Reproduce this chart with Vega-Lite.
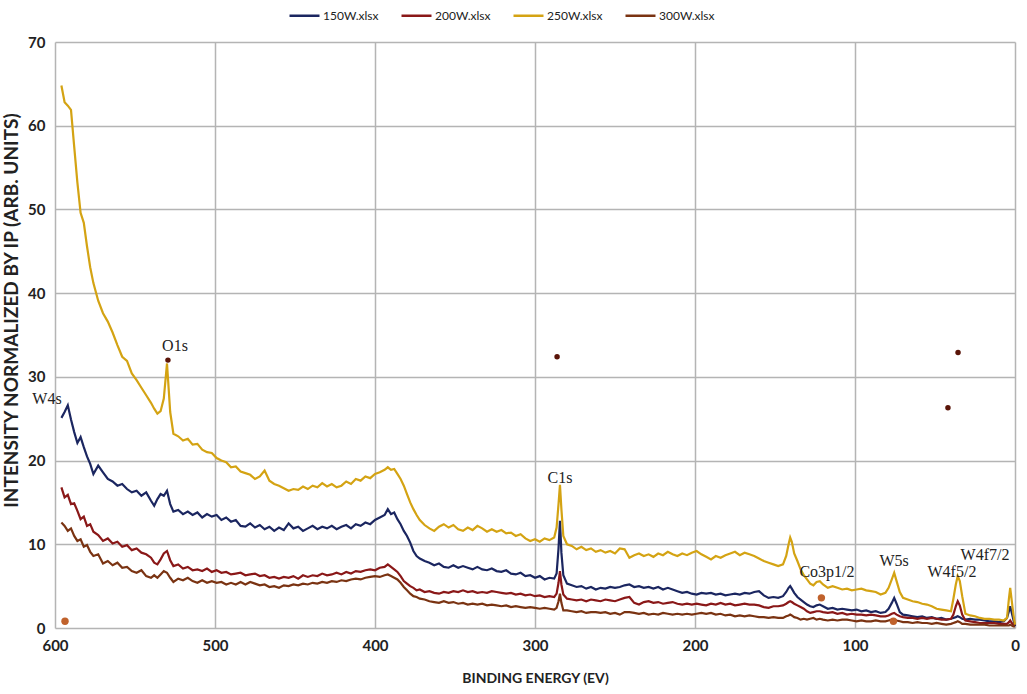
{
  "$schema": "https://vega.github.io/schema/vega-lite/v6.json",
  "width": 960,
  "height": 586,
  "autosize": {"type": "none"},
  "padding": {"left": 55, "top": 42, "right": 12, "bottom": 66},
  "background": "white",
  "config": {
    "view": {"stroke": null},
    "font": "Lato",
    "axis": {
      "grid": true,
      "gridColor": "#b4b4b4",
      "gridWidth": 1.5,
      "domain": false,
      "ticks": false,
      "labelFlush": false,
      "labelFont": "Lato",
      "labelFontWeight": "bold",
      "labelFontSize": 15,
      "labelColor": "#222222",
      "titleFont": "Lato",
      "titleFontWeight": "bold",
      "titleColor": "#222222"
    }
  },
  "datasets": {
    "spec": [
      {"E":596,"150W":25.1,"200W":16.8,"250W":64.8,"300W":12.6},
      {"E":594,"150W":25.8,"200W":15.6,"250W":62.8,"300W":12.2},
      {"E":592,"150W":26.6,"200W":15.9,"250W":62.4,"300W":11.6},
      {"E":590,"150W":24.9,"200W":14.8,"250W":61.9,"300W":11.9},
      {"E":588,"150W":23.4,"200W":14.9,"250W":57.5,"300W":11.0},
      {"E":586,"150W":22.1,"200W":14.0,"250W":53.2,"300W":10.4},
      {"E":584,"150W":22.8,"200W":13.0,"250W":49.6,"300W":10.6},
      {"E":582,"150W":21.6,"200W":13.3,"250W":48.4,"300W":9.7},
      {"E":580,"150W":20.5,"200W":12.2,"250W":45.6,"300W":9.9},
      {"E":578,"150W":19.6,"200W":12.4,"250W":43.1,"300W":9.1},
      {"E":576,"150W":18.4,"200W":11.5,"250W":41.2,"300W":8.6},
      {"E":573,"150W":19.4,"200W":11.1,"250W":39.1,"300W":8.8},
      {"E":570,"150W":18.6,"200W":10.4,"250W":37.6,"300W":7.7},
      {"E":567,"150W":17.8,"200W":10.7,"250W":36.6,"300W":8.0},
      {"E":564,"150W":17.5,"200W":10.1,"250W":35.3,"300W":7.5},
      {"E":561,"150W":17.0,"200W":10.3,"250W":33.8,"300W":7.8},
      {"E":558,"150W":17.2,"200W":9.7,"250W":32.4,"300W":7.2},
      {"E":555,"150W":16.6,"200W":9.9,"250W":31.9,"300W":7.3},
      {"E":552,"150W":16.2,"200W":9.3,"250W":30.4,"300W":6.8},
      {"E":549,"150W":16.4,"200W":9.5,"250W":29.6,"300W":6.6},
      {"E":546,"150W":15.8,"200W":9.0,"250W":28.7,"300W":6.9},
      {"E":543,"150W":16.2,"200W":8.8,"250W":27.8,"300W":6.2},
      {"E":540,"150W":15.2,"200W":8.4,"250W":26.9,"300W":6.0},
      {"E":538,"150W":14.6,"200W":7.8,"250W":26.2,"300W":6.3},
      {"E":536,"150W":15.4,"200W":7.6,"250W":25.6,"300W":6.0},
      {"E":534,"150W":16.0,"200W":8.2,"250W":25.9,"300W":6.4},
      {"E":532,"150W":15.8,"200W":8.9,"250W":27.4,"300W":6.8},
      {"E":530,"150W":16.4,"200W":9.2,"250W":31.6,"300W":6.6},
      {"E":528,"150W":14.8,"200W":8.1,"250W":25.8,"300W":6.0},
      {"E":526,"150W":13.9,"200W":7.4,"250W":23.2,"300W":5.5},
      {"E":523,"150W":14.1,"200W":7.6,"250W":22.9,"300W":5.9},
      {"E":520,"150W":13.6,"200W":7.1,"250W":22.4,"300W":5.7},
      {"E":517,"150W":13.9,"200W":7.3,"250W":22.6,"300W":6.0},
      {"E":514,"150W":13.5,"200W":6.9,"250W":21.9,"300W":5.6},
      {"E":511,"150W":13.8,"200W":7.0,"250W":22.0,"300W":5.4},
      {"E":508,"150W":13.2,"200W":6.8,"250W":21.3,"300W":5.7},
      {"E":505,"150W":13.6,"200W":7.1,"250W":21.0,"300W":5.4},
      {"E":502,"150W":13.3,"200W":6.7,"250W":20.9,"300W":5.6},
      {"E":499,"150W":13.5,"200W":6.9,"250W":20.3,"300W":5.4},
      {"E":496,"150W":12.9,"200W":6.6,"250W":20.0,"300W":5.5},
      {"E":493,"150W":13.2,"200W":6.7,"250W":19.8,"300W":5.2},
      {"E":490,"150W":12.7,"200W":6.4,"250W":19.2,"300W":5.4},
      {"E":487,"150W":12.9,"200W":6.5,"250W":19.3,"300W":5.2},
      {"E":484,"150W":12.2,"200W":6.6,"250W":18.7,"300W":5.5},
      {"E":481,"150W":12.1,"200W":6.3,"250W":18.5,"300W":5.2},
      {"E":478,"150W":12.5,"200W":6.4,"250W":18.3,"300W":5.5},
      {"E":475,"150W":12.0,"200W":6.5,"250W":17.8,"300W":5.3},
      {"E":472,"150W":12.3,"200W":6.2,"250W":18.1,"300W":5.1},
      {"E":469,"150W":11.8,"200W":6.3,"250W":18.8,"300W":5.2},
      {"E":466,"150W":12.1,"200W":6.0,"250W":17.6,"300W":4.9},
      {"E":463,"150W":11.6,"200W":6.1,"250W":17.2,"300W":5.0},
      {"E":460,"150W":12.0,"200W":5.9,"250W":17.0,"300W":4.8},
      {"E":457,"150W":11.7,"200W":6.1,"250W":16.7,"300W":5.1},
      {"E":454,"150W":12.5,"200W":6.0,"250W":16.4,"300W":5.0},
      {"E":451,"150W":11.9,"200W":6.2,"250W":16.6,"300W":5.2},
      {"E":448,"150W":12.1,"200W":5.9,"250W":16.5,"300W":5.1},
      {"E":445,"150W":11.6,"200W":6.3,"250W":16.9,"300W":5.3},
      {"E":442,"150W":11.9,"200W":6.1,"250W":16.6,"300W":5.2},
      {"E":439,"150W":12.2,"200W":6.3,"250W":17.0,"300W":5.4},
      {"E":436,"150W":11.8,"200W":6.2,"250W":16.8,"300W":5.3},
      {"E":433,"150W":12.1,"200W":6.5,"250W":17.3,"300W":5.5},
      {"E":430,"150W":11.9,"200W":6.3,"250W":16.9,"300W":5.4},
      {"E":427,"150W":12.2,"200W":6.4,"250W":17.2,"300W":5.6},
      {"E":424,"150W":11.8,"200W":6.6,"250W":16.8,"300W":5.5},
      {"E":421,"150W":12.1,"200W":6.4,"250W":17.0,"300W":5.7},
      {"E":418,"150W":12.3,"200W":6.7,"250W":17.5,"300W":5.6},
      {"E":415,"150W":11.9,"200W":6.5,"250W":17.2,"300W":5.8},
      {"E":412,"150W":12.4,"200W":6.8,"250W":17.8,"300W":5.9},
      {"E":409,"150W":12.2,"200W":6.7,"250W":17.6,"300W":5.8},
      {"E":406,"150W":12.6,"200W":6.9,"250W":18.1,"300W":6.0},
      {"E":403,"150W":12.4,"200W":7.0,"250W":17.9,"300W":6.1},
      {"E":400,"150W":12.9,"200W":6.9,"250W":18.4,"300W":6.2},
      {"E":397,"150W":13.2,"200W":7.2,"250W":18.6,"300W":6.1},
      {"E":394,"150W":13.5,"200W":7.3,"250W":18.9,"300W":6.3},
      {"E":392,"150W":14.2,"200W":7.6,"250W":19.2,"300W":6.4},
      {"E":390,"150W":13.6,"200W":7.3,"250W":18.9,"300W":6.2},
      {"E":388,"150W":13.8,"200W":7.0,"250W":19.0,"300W":6.0},
      {"E":386,"150W":13.0,"200W":6.7,"250W":18.4,"300W":5.8},
      {"E":384,"150W":12.4,"200W":6.2,"250W":17.8,"300W":5.4},
      {"E":382,"150W":11.6,"200W":5.6,"250W":17.0,"300W":4.9},
      {"E":380,"150W":11.0,"200W":5.3,"250W":16.0,"300W":4.5},
      {"E":378,"150W":10.2,"200W":5.0,"250W":15.0,"300W":4.1},
      {"E":376,"150W":9.2,"200W":4.8,"250W":14.2,"300W":3.8},
      {"E":374,"150W":8.6,"200W":4.5,"250W":13.5,"300W":3.7},
      {"E":372,"150W":8.3,"200W":4.6,"250W":12.9,"300W":3.5},
      {"E":369,"150W":8.0,"200W":4.3,"250W":12.3,"300W":3.4},
      {"E":366,"150W":7.8,"200W":4.4,"250W":11.9,"300W":3.2},
      {"E":363,"150W":7.5,"200W":4.2,"250W":11.6,"300W":3.1},
      {"E":360,"150W":7.7,"200W":4.1,"250W":12.1,"300W":3.0},
      {"E":357,"150W":7.3,"200W":4.3,"250W":12.4,"300W":3.2},
      {"E":354,"150W":7.2,"200W":4.2,"250W":12.0,"300W":3.0},
      {"E":351,"150W":7.5,"200W":4.4,"250W":12.3,"300W":3.1},
      {"E":348,"150W":7.2,"200W":4.3,"250W":11.8,"300W":2.9},
      {"E":345,"150W":7.4,"200W":4.5,"250W":11.6,"300W":3.0},
      {"E":342,"150W":7.2,"200W":4.3,"250W":12.0,"300W":2.8},
      {"E":339,"150W":7.0,"200W":4.4,"250W":11.7,"300W":2.9},
      {"E":336,"150W":7.3,"200W":4.2,"250W":12.2,"300W":2.8},
      {"E":333,"150W":7.0,"200W":4.3,"250W":11.9,"300W":2.9},
      {"E":330,"150W":6.9,"200W":4.2,"250W":11.5,"300W":2.7},
      {"E":327,"150W":7.1,"200W":4.4,"250W":11.8,"300W":2.8},
      {"E":324,"150W":6.8,"200W":4.3,"250W":11.5,"300W":2.7},
      {"E":321,"150W":6.7,"200W":4.2,"250W":11.7,"300W":2.6},
      {"E":318,"150W":6.9,"200W":4.1,"250W":11.3,"300W":2.7},
      {"E":315,"150W":6.5,"200W":4.2,"250W":11.4,"300W":2.5},
      {"E":312,"150W":6.4,"200W":4.0,"250W":11.0,"300W":2.6},
      {"E":309,"150W":6.6,"200W":4.1,"250W":11.2,"300W":2.5},
      {"E":306,"150W":6.2,"200W":3.9,"250W":10.7,"300W":2.4},
      {"E":303,"150W":6.3,"200W":4.0,"250W":10.4,"300W":2.5},
      {"E":300,"150W":6.0,"200W":3.8,"250W":10.6,"300W":2.4},
      {"E":297,"150W":6.2,"200W":3.9,"250W":10.3,"300W":2.3},
      {"E":294,"150W":5.8,"200W":3.7,"250W":10.7,"300W":2.4},
      {"E":291,"150W":6.0,"200W":3.8,"250W":10.5,"300W":2.3},
      {"E":288,"150W":5.9,"200W":3.7,"250W":10.8,"300W":2.2},
      {"E":286.5,"150W":6.5,"200W":4.1,"250W":12.0,"300W":2.4},
      {"E":285.3,"150W":9.5,"200W":5.4,"250W":14.8,"300W":3.2},
      {"E":284.4,"150W":12.8,"200W":6.8,"250W":17.1,"300W":4.1},
      {"E":283.5,"150W":9.0,"200W":5.2,"250W":14.2,"300W":3.0},
      {"E":282.3,"150W":6.3,"200W":4.0,"250W":11.0,"300W":2.1},
      {"E":280,"150W":5.3,"200W":3.5,"250W":10.0,"300W":2.1},
      {"E":277,"150W":5.1,"200W":3.4,"250W":9.8,"300W":2.0},
      {"E":274,"150W":4.9,"200W":3.3,"250W":9.4,"300W":1.9},
      {"E":271,"150W":5.0,"200W":3.4,"250W":9.7,"300W":2.0},
      {"E":268,"150W":4.7,"200W":3.2,"250W":9.3,"300W":1.8},
      {"E":265,"150W":4.9,"200W":3.4,"250W":9.5,"300W":1.9},
      {"E":262,"150W":4.6,"200W":3.3,"250W":9.1,"300W":1.9},
      {"E":259,"150W":4.8,"200W":3.2,"250W":9.3,"300W":1.8},
      {"E":256,"150W":4.7,"200W":3.4,"250W":9.0,"300W":1.9},
      {"E":253,"150W":4.9,"200W":3.3,"250W":9.2,"300W":1.7},
      {"E":250,"150W":4.8,"200W":3.2,"250W":8.9,"300W":1.8},
      {"E":247,"150W":4.9,"200W":3.4,"250W":9.5,"300W":1.6},
      {"E":244,"150W":5.1,"200W":3.6,"250W":9.4,"300W":1.9},
      {"E":241,"150W":5.2,"200W":3.7,"250W":8.4,"300W":1.9},
      {"E":238,"150W":4.9,"200W":3.0,"250W":8.7,"300W":1.8},
      {"E":235,"150W":5.0,"200W":2.8,"250W":8.9,"300W":1.7},
      {"E":232,"150W":4.8,"200W":3.1,"250W":8.6,"300W":1.8},
      {"E":229,"150W":4.9,"200W":3.2,"250W":8.8,"300W":1.6},
      {"E":226,"150W":4.7,"200W":3.0,"250W":8.5,"300W":1.7},
      {"E":223,"150W":4.9,"200W":3.1,"250W":8.9,"300W":1.6},
      {"E":220,"150W":4.6,"200W":2.9,"250W":8.7,"300W":1.8},
      {"E":217,"150W":4.8,"200W":3.0,"250W":9.1,"300W":1.7},
      {"E":214,"150W":4.6,"200W":3.1,"250W":8.8,"300W":1.6},
      {"E":211,"150W":4.4,"200W":2.9,"250W":8.6,"300W":1.7},
      {"E":208,"150W":4.2,"200W":2.8,"250W":8.9,"300W":1.6},
      {"E":205,"150W":4.3,"200W":2.9,"250W":8.7,"300W":1.7},
      {"E":202,"150W":4.1,"200W":2.8,"250W":9.0,"300W":1.6},
      {"E":199,"150W":4.0,"200W":2.9,"250W":9.2,"300W":1.7},
      {"E":196,"150W":4.2,"200W":2.8,"250W":8.8,"300W":1.8},
      {"E":193,"150W":4.1,"200W":2.7,"250W":8.5,"300W":1.7},
      {"E":190,"150W":4.2,"200W":2.9,"250W":8.2,"300W":1.8},
      {"E":187,"150W":4.0,"200W":2.8,"250W":8.6,"300W":1.6},
      {"E":184,"150W":4.1,"200W":3.0,"250W":8.4,"300W":1.7},
      {"E":181,"150W":3.9,"200W":2.8,"250W":8.7,"300W":1.5},
      {"E":178,"150W":4.0,"200W":2.9,"250W":8.9,"300W":1.6},
      {"E":175,"150W":4.1,"200W":2.7,"250W":9.1,"300W":1.4},
      {"E":172,"150W":4.0,"200W":2.8,"250W":8.7,"300W":1.5},
      {"E":169,"150W":4.2,"200W":2.9,"250W":9.0,"300W":1.4},
      {"E":166,"150W":4.1,"200W":2.8,"250W":8.8,"300W":1.5},
      {"E":163,"150W":4.3,"200W":2.8,"250W":8.6,"300W":1.4},
      {"E":160,"150W":4.4,"200W":2.7,"250W":8.3,"300W":1.3},
      {"E":157,"150W":3.9,"200W":2.5,"250W":8.0,"300W":1.3},
      {"E":154,"150W":3.6,"200W":2.4,"250W":7.8,"300W":1.2},
      {"E":151,"150W":3.7,"200W":2.6,"250W":7.6,"300W":1.3},
      {"E":148,"150W":3.6,"200W":2.6,"250W":7.4,"300W":1.2},
      {"E":145,"150W":3.8,"200W":2.7,"250W":7.6,"300W":1.2},
      {"E":143,"150W":4.3,"200W":2.9,"250W":8.6,"300W":1.4},
      {"E":141.5,"150W":4.8,"200W":3.1,"250W":10.0,"300W":1.5},
      {"E":140.5,"150W":5.0,"200W":3.2,"250W":10.8,"300W":1.6},
      {"E":139.5,"150W":4.7,"200W":3.1,"250W":10.3,"300W":1.5},
      {"E":138,"150W":4.2,"200W":2.9,"250W":8.9,"300W":1.3},
      {"E":136,"150W":3.7,"200W":2.7,"250W":8.0,"300W":1.2},
      {"E":134,"150W":3.4,"200W":2.5,"250W":7.0,"300W":1.0},
      {"E":132,"150W":3.1,"200W":2.3,"250W":6.3,"300W":1.1},
      {"E":130,"150W":2.8,"200W":2.0,"250W":5.8,"300W":1.0},
      {"E":128,"150W":2.6,"200W":1.8,"250W":5.3,"300W":1.1},
      {"E":126,"150W":2.5,"200W":1.9,"250W":5.1,"300W":1.2},
      {"E":124,"150W":2.7,"200W":2.0,"250W":5.5,"300W":1.0},
      {"E":122,"150W":2.8,"200W":2.0,"250W":5.6,"300W":1.1},
      {"E":120,"150W":2.6,"200W":1.9,"250W":5.2,"300W":1.0},
      {"E":117,"150W":2.3,"200W":1.8,"250W":4.8,"300W":0.9},
      {"E":114,"150W":2.4,"200W":1.9,"250W":5.0,"300W":1.0},
      {"E":111,"150W":2.2,"200W":1.7,"250W":4.8,"300W":0.9},
      {"E":108,"150W":2.3,"200W":1.8,"250W":4.6,"300W":1.0},
      {"E":105,"150W":2.2,"200W":1.6,"250W":4.7,"300W":1.0},
      {"E":102,"150W":2.1,"200W":1.7,"250W":4.5,"300W":0.9},
      {"E":99,"150W":2.2,"200W":1.6,"250W":4.6,"300W":0.8},
      {"E":96,"150W":2.0,"200W":1.6,"250W":4.7,"300W":0.9},
      {"E":93,"150W":2.1,"200W":1.5,"250W":4.5,"300W":0.8},
      {"E":90,"150W":1.9,"200W":1.6,"250W":4.4,"300W":0.8},
      {"E":87,"150W":2.0,"200W":1.5,"250W":4.3,"300W":0.9},
      {"E":84,"150W":1.8,"200W":1.4,"250W":4.0,"300W":0.8},
      {"E":81,"150W":1.9,"200W":1.4,"250W":4.2,"300W":0.8},
      {"E":79,"150W":2.3,"200W":1.5,"250W":4.8,"300W":0.9},
      {"E":77,"150W":3.0,"200W":1.7,"250W":5.8,"300W":1.0},
      {"E":75.5,"150W":3.6,"200W":1.8,"250W":6.6,"300W":1.0},
      {"E":74,"150W":2.9,"200W":1.6,"250W":5.6,"300W":0.9},
      {"E":72,"150W":1.9,"200W":1.4,"250W":4.3,"300W":0.8},
      {"E":70,"150W":1.6,"200W":1.3,"250W":3.6,"300W":0.7},
      {"E":67,"150W":1.5,"200W":1.2,"250W":3.4,"300W":0.7},
      {"E":64,"150W":1.4,"200W":1.2,"250W":3.2,"300W":0.6},
      {"E":61,"150W":1.3,"200W":1.1,"250W":3.1,"300W":0.7},
      {"E":58,"150W":1.4,"200W":1.2,"250W":2.9,"300W":0.6},
      {"E":55,"150W":1.2,"200W":1.1,"250W":2.8,"300W":0.6},
      {"E":52,"150W":1.3,"200W":1.2,"250W":2.6,"300W":0.5},
      {"E":49,"150W":1.1,"200W":1.1,"250W":2.3,"300W":0.6},
      {"E":46,"150W":1.2,"200W":1.0,"250W":2.2,"300W":0.5},
      {"E":43,"150W":1.0,"200W":1.0,"250W":2.1,"300W":0.4},
      {"E":40,"150W":1.1,"200W":1.1,"250W":2.0,"300W":0.5},
      {"E":38.5,"150W":1.2,"200W":1.6,"250W":3.5,"300W":0.6},
      {"E":37,"150W":1.3,"200W":2.6,"250W":5.2,"300W":0.7},
      {"E":35.8,"150W":1.4,"200W":3.2,"250W":6.2,"300W":0.8},
      {"E":34.5,"150W":1.3,"200W":2.7,"250W":5.6,"300W":0.7},
      {"E":33,"150W":1.1,"200W":1.6,"250W":3.8,"300W":0.5},
      {"E":31,"150W":1.0,"200W":0.9,"250W":1.7,"300W":0.5},
      {"E":28,"150W":1.1,"200W":0.8,"250W":1.5,"300W":0.4},
      {"E":25,"150W":1.0,"200W":0.7,"250W":1.4,"300W":0.4},
      {"E":22,"150W":1.0,"200W":0.6,"250W":1.2,"300W":0.4},
      {"E":19,"150W":0.9,"200W":0.6,"250W":1.1,"300W":0.4},
      {"E":16,"150W":0.8,"200W":0.6,"250W":1.1,"300W":0.3},
      {"E":13,"150W":0.8,"200W":0.6,"250W":1.0,"300W":0.3},
      {"E":10,"150W":0.7,"200W":0.5,"250W":1.0,"300W":0.3},
      {"E":7,"150W":0.8,"200W":0.5,"250W":0.9,"300W":0.3},
      {"E":5,"150W":1.2,"200W":0.5,"250W":1.2,"300W":0.3},
      {"E":3.8,"150W":2.0,"200W":0.7,"250W":3.5,"300W":0.3},
      {"E":3,"150W":2.6,"200W":0.9,"250W":4.8,"300W":0.4},
      {"E":2,"150W":1.8,"200W":0.6,"250W":3.2,"300W":0.3},
      {"E":1,"150W":1.0,"200W":0.4,"250W":1.6,"300W":0.2},
      {"E":0,"150W":0.2,"200W":0.3,"250W":0.4,"300W":0.2}
    ],
    "labels": [
      {"E":605,"I":26.8,"label":"W4s"},
      {"E":525,"I":33.1,"label":"O1s"},
      {"E":284.4,"I":17.3,"label":"C1s"},
      {"E":117.5,"I":6.1,"label":"Co3p1/2"},
      {"E":75.6,"I":7.4,"label":"W5s"},
      {"E":39.4,"I":6.1,"label":"W4f5/2"},
      {"E":18.75,"I":8.1,"label":"W4f7/2"}
    ],
    "dotsDark": [
      {"E":529.4,"I":32.0},
      {"E":286.2,"I":32.4},
      {"E":35.6,"I":32.9},
      {"E":41.9,"I":26.3}
    ],
    "dotsOrange": [
      {"E":593.75,"I":0.8},
      {"E":121,"I":3.6},
      {"E":76,"I":0.8}
    ]
  },
  "encoding": {
    "x": {
      "field": "E",
      "type": "quantitative",
      "title": "BINDING ENERGY (EV)",
      "scale": {"domain": [0, 600], "reverse": true, "nice": false},
      "axis": {"values": [0, 100, 200, 300, 400, 500, 600], "labelPadding": 10, "titlePadding": 18, "titleFontSize": 14}
    },
    "y": {
      "field": "I",
      "type": "quantitative",
      "title": "INTENSITY NORMALIZED BY IP (ARB. UNITS)",
      "scale": {"domain": [0, 70], "nice": false},
      "axis": {"values": [0, 10, 20, 30, 40, 50, 60, 70], "labelPadding": 10, "titlePadding": 6, "titleFontSize": 19, "titleY": 268}
    }
  },
  "layer": [
    {
      "data": {"name": "spec"},
      "transform": [{"fold": ["150W", "200W", "250W", "300W"], "as": ["series", "I"]}],
      "mark": {"type": "line", "strokeWidth": 2.2, "interpolate": "linear"},
      "encoding": {
        "color": {
          "field": "series",
          "type": "nominal",
          "scale": {"domain": ["150W", "200W", "250W", "300W"], "range": ["#1b2660", "#8a1818", "#d4a313", "#7a3312"]},
          "legend": {
            "orient": "none",
            "legendX": 233,
            "legendY": -43,
            "direction": "horizontal",
            "title": null,
            "symbolType": "stroke",
            "symbolSize": 900,
            "symbolStrokeWidth": 2.5,
            "labelExpr": "datum.label + '.xlsx'",
            "labelFont": "Lato",
            "labelFontSize": 12,
            "labelOffset": 2,
            "labelColor": "#222222",
            "columnPadding": 17,
            "symbolOffset": 0
          }
        }
      }
    },
    {
      "data": {"name": "dotsDark"},
      "mark": {"type": "point", "filled": true, "size": 30, "color": "#5a1408", "opacity": 1}
    },
    {
      "data": {"name": "dotsOrange"},
      "mark": {"type": "point", "filled": true, "size": 55, "color": "#c0622c", "opacity": 1}
    },
    {
      "data": {"name": "labels"},
      "mark": {"type": "text", "font": "Liberation Serif", "fontSize": 16, "color": "#222222", "align": "center", "baseline": "alphabetic"},
      "encoding": {"text": {"field": "label", "type": "nominal"}}
    }
  ]
}
